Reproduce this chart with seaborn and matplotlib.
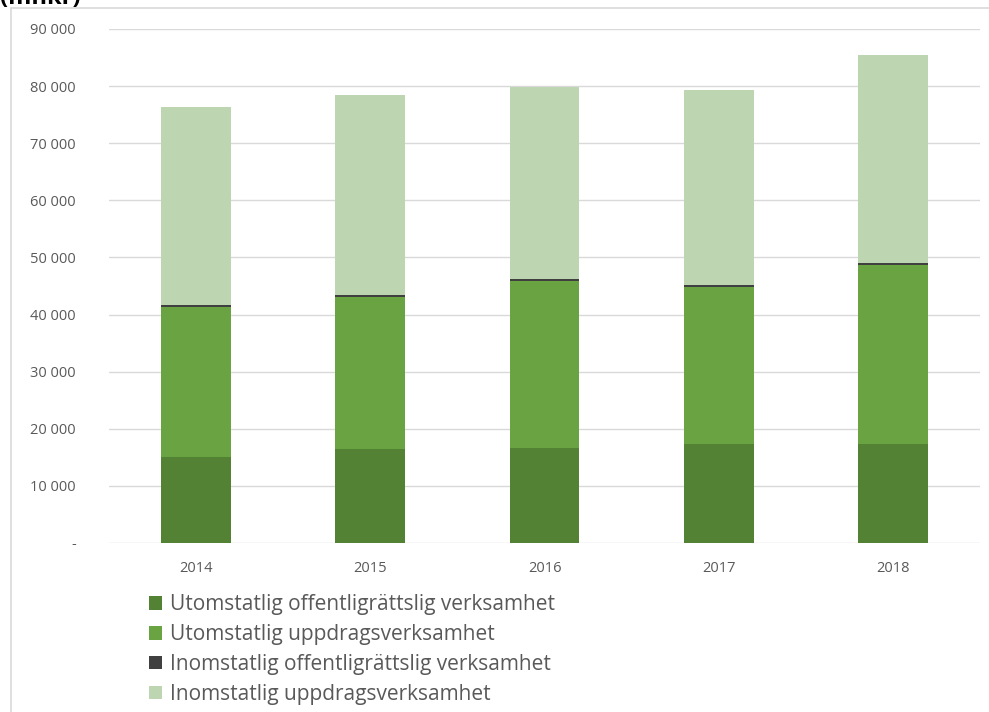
import matplotlib
matplotlib.use("Agg")
import matplotlib.pyplot as plt
import seaborn as sns
import pandas as pd
import numpy as np
from matplotlib.patches import Patch
from matplotlib.lines import Line2D
from matplotlib.ticker import FuncFormatter, MultipleLocator

years = ["2014", "2015", "2016", "2017", "2018"]
utom_offentlig = [15000, 16400, 16700, 17400, 17400]
utom_uppdrag = [26300, 26600, 29100, 27500, 31200]
inom_offentlig = [350, 350, 350, 350, 350]
inom_uppdrag = [34650, 35050, 33650, 34050, 36450]

series_names = [
    "Utomstatlig offentligrättslig verksamhet",
    "Utomstatlig uppdragsverksamhet",
    "Inomstatlig offentligrättslig verksamhet",
    "Inomstatlig uppdragsverksamhet",
]
colors = ["#548235", "#6AA342", "#404040", "#BDD6B1"]

sns.set_theme(style="white")
plt.rcParams["font.family"] = ["Open Sans", "DejaVu Sans"]

fig = plt.figure(figsize=(9.89, 7.12), dpi=100)
ax = fig.add_axes([0.1102, 0.2374, 0.991 - 0.1102, 0.9593 - 0.2374])

layers = [utom_offentlig, utom_uppdrag, inom_offentlig, inom_uppdrag]
cum = np.cumsum(np.array(layers, dtype=float), axis=0)

ax.set_axisbelow(True)
for i in range(len(layers) - 1, -1, -1):
    df = pd.DataFrame({"year": years, "value": cum[i]})
    sns.barplot(data=df, x="year", y="value", color=colors[i], width=0.4,
                saturation=1, ax=ax, linewidth=0, zorder=2)

ax.set_ylim(0, 90000)
ax.yaxis.set_major_locator(MultipleLocator(10000))
ax.yaxis.set_major_formatter(FuncFormatter(
    lambda v, p: "-" if v == 0 else f"{int(v):,}".replace(",", " ")))
ax.grid(axis="y", color="#D9D9D9", linewidth=1)
ax.grid(axis="x", visible=False)
for s in ax.spines.values():
    s.set_visible(False)
ax.set_xlabel("")
ax.set_ylabel("")
ax.tick_params(axis="both", length=0, labelsize=10.5, colors="#595959")
ax.tick_params(axis="y", pad=24)
ax.tick_params(axis="x", pad=13)

# frame lines of the original chart area
fig.add_artist(Line2D([11 / 989, 11 / 989], [0, 1 - 8 / 712], color="#D9D9D9", lw=1.2,
                      transform=fig.transFigure))
fig.add_artist(Line2D([11 / 989, 1], [1 - 8 / 712, 1 - 8 / 712], color="#D9D9D9", lw=1.2,
                      transform=fig.transFigure))

fig.text(0.0, 1 - 4 / 712, "(mnkr)", fontsize=17, fontweight="bold", color="black",
         va="baseline", ha="left")

handles = [Patch(facecolor=c, edgecolor="none") for c in colors]
fig.legend(handles, series_names, loc="upper left",
           bbox_to_anchor=(141 / 989, 1 - 586 / 712), frameon=False,
           fontsize=15, handlelength=0.62, handleheight=0.62, handletextpad=0.35,
           labelspacing=0.42, labelcolor="#595959", borderaxespad=0)

fig.savefig("out.png", dpi=100)
